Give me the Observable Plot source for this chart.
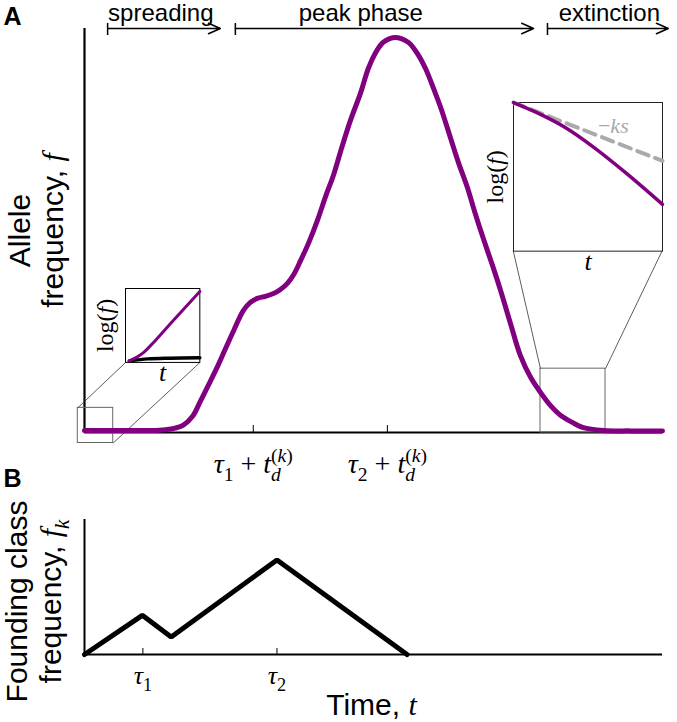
<!DOCTYPE html>
<html><head><meta charset="utf-8">
<script src="https://cdn.jsdelivr.net/npm/d3@7"></script>
<script src="https://cdn.jsdelivr.net/npm/@observablehq/plot@0.6"></script>
<style>
body{margin:0;background:#fff;}
#fig{position:relative;width:677px;height:722px;background:#fff;overflow:hidden;}
#fig svg{position:absolute;}
</style></head><body><div id="fig"></div>
<script>
// ---------------- data ----------------
// Panel A: allele frequency f(t) (t in arbitrary time units 0..100, f normalised)
const alleleT = [0, 6.2, 11.4, 14.0, 15.7, 17.1, 18.7, 20.1, 21.5, 23.0, 24.4, 25.8, 27.5, 28.7, 29.9, 31.3, 32.7, 33.9, 35.1, 36.2, 37.4, 38.8, 40.3, 41.7, 43.1, 44.5, 46.0, 47.8, 49.1, 50.4, 51.6, 52.8, 53.8, 54.8, 56.1, 57.6, 59.0, 60.4, 61.8, 63.3, 64.7, 66.3, 67.6, 69.0, 70.6, 72.0, 73.7, 75.4, 77.2, 78.9, 80.6, 82.4, 84.4, 86.3, 89.8, 94.5, 100];
const alleleF = [0.005, 0.005, 0.005, 0.007, 0.011, 0.018, 0.040, 0.079, 0.119, 0.163, 0.208, 0.252, 0.302, 0.322, 0.332, 0.337, 0.344, 0.354, 0.369, 0.391, 0.426, 0.470, 0.525, 0.584, 0.638, 0.705, 0.772, 0.842, 0.901, 0.941, 0.965, 0.975, 0.978, 0.975, 0.965, 0.938, 0.901, 0.851, 0.797, 0.730, 0.668, 0.604, 0.542, 0.480, 0.413, 0.351, 0.270, 0.191, 0.136, 0.099, 0.067, 0.042, 0.025, 0.012, 0.005, 0.004, 0.004];

// Panel B: founding class frequency f_k(t)
const foundT = [0, 10.0, 15.0, 33.3, 55.8];
const foundF = [0, 0.29, 0.13, 0.70, 0];

// times
const tau = [10.1, 33.3];
const tauLabels = ["$τ_1$", "$τ_2$"];
const td = 19.1;
const tickLabelsA = ["$τ_1 + t_d^{(k)}$", "$τ_2 + t_d^{(k)}$"];

// phases
const phases = ["spreading", "peak phase", "extinction"];
const phaseStart = [4.0, 26.1, 80.1];
const phaseEnd = [23.5, 77.7, 101.0];
const phaseLabelT = [13.2, 47.8, 90.8];

// magnified regions and inset boxes, in panel-A units [t0, t1, f0, f1]
const zoomLeft = [-1.16, 4.97, -0.026, 0.061];
const insetLeftBox = [7.09, 19.95, 0.173, 0.356];
const zoomRight = [78.89, 90.14, 0, 0.158];
const insetRightBox = [74.17, 99.95, 0.450, 0.818];

// left inset: early growth on log scale (normalised)
const earlyT = [0.05, 0.15, 0.25, 0.34, 0.6, 1.0];
const earlyLogF = [0.02, 0.07, 0.14, 0.23, 0.52, 0.96];
const earlyClassT = [0.05, 0.3, 0.6, 1.0];
const earlyClassLogF = [0.02, 0.048, 0.058, 0.064];

// right inset: extinction on log scale (normalised)
const lateT = [0, 0.15, 0.35, 0.55, 0.75, 1];
const lateLogF = [1, 0.935, 0.83, 0.69, 0.53, 0.315];
const ksT = [0, 1];
const ksLogF = [1, 0.607];

// ---------------- styles ----------------
const W = 677;
const PURPLE = "#800080";
const SANS = "'Liberation Sans', Arial, Helvetica, sans-serif";
const SERIF = "'Liberation Serif', 'Times New Roman', serif";
const zip = (xs, ys) => xs.map((x, i) => ({x, y: ys[i]}));
const MID = {textAnchor: "middle", lineAnchor: "middle", fill: "black"};

const boxes = [zoomLeft, zoomRight].map(b => ({t0: b[0], t1: b[1], f0: b[2], f1: b[3]}));
const links = [
  {x1: zoomLeft[0], y1: zoomLeft[3], x2: insetLeftBox[0], y2: insetLeftBox[2]},
  {x1: zoomLeft[1], y1: zoomLeft[2], x2: insetLeftBox[1], y2: insetLeftBox[2]},
  {x1: zoomRight[0], y1: zoomRight[3], x2: insetRightBox[0], y2: insetRightBox[2]},
  {x1: zoomRight[1], y1: zoomRight[3], x2: insetRightBox[1], y2: insetRightBox[2]}
];

// ---------------- panel A ----------------
const plotA = Plot.plot({
  width: W, height: 490,
  marginLeft: 84, marginRight: 15, marginTop: 28, marginBottom: 58,
  x: {domain: [0, 100], axis: null},
  y: {domain: [0, 1], axis: null},
  style: {background: "transparent", overflow: "visible", fontFamily: SANS, color: "black"},
  marks: [
    Plot.ruleX([0], {stroke: "black", strokeWidth: 2.2}),
    Plot.ruleY([0], {stroke: "black", strokeWidth: 2.2}),
    Plot.tickX(tau.map(v => v + td), {x: d => d, insetTop: 397, stroke: "black", strokeWidth: 1}),
    Plot.text(tickLabelsA, {...MID, x: (d, i) => tau[i] + td, y: 0, dy: 32, fontSize: 28}),
    Plot.arrow(phases, {x1: (d, i) => phaseStart[i], x2: (d, i) => phaseEnd[i], y1: 1, y2: 1,
      stroke: "black", strokeWidth: 1.5, headLength: 13, headAngle: 48}),
    Plot.tickX(phaseStart, {x: d => d, insetTop: -5, insetBottom: 397, stroke: "black", strokeWidth: 1.5}),
    Plot.text(phases, {...MID, x: (d, i) => phaseLabelT[i], y: 1, dy: -15, fontSize: 24}),
    Plot.rect(boxes, {x1: "t0", x2: "t1", y1: "f0", y2: "f1", fill: "none", stroke: "#666", strokeWidth: 1}),
    Plot.link(links, {x1: "x1", y1: "y1", x2: "x2", y2: "y2", stroke: "#333", strokeWidth: 0.8}),
    Plot.line(zip(alleleT, alleleF), {x: "x", y: "y", stroke: PURPLE, strokeWidth: 5, curve: "catmull-rom"}),
    Plot.text(["A"], {...MID, frameAnchor: "top-left", textAnchor: "start", dx: -81, dy: -12, fontSize: 25, fontWeight: "bold"}),
    Plot.text(["Allele"], {...MID, frameAnchor: "left", rotate: -90, dx: -64.6, fontSize: 30}),
    Plot.text(["frequency, $f$"], {...MID, frameAnchor: "left", rotate: -90, dx: -31, fontSize: 30})
  ]
});

const xA = plotA.scale("x"), yA = plotA.scale("y");
function insetPlot(box, m, marks) {
  const left = xA.apply(box[0]), right = xA.apply(box[1]);
  const top = yA.apply(box[3]), bottom = yA.apply(box[2]);
  const p = Plot.plot({
    width: right - left + m.l + m.r, height: bottom - top + m.t + m.b,
    marginLeft: m.l, marginRight: m.r, marginTop: m.t, marginBottom: m.b,
    x: {domain: [0, 1], axis: null}, y: {domain: [0, 1], axis: null},
    style: {background: "transparent", overflow: "visible", color: "black"},
    marks
  });
  p.style.left = (left - m.l) + "px";
  p.style.top = (top - m.t) + "px";
  return p;
}

const insetL = insetPlot(insetLeftBox, {l: 40, r: 4, t: 4, b: 30}, [
  Plot.frame({stroke: "black", strokeWidth: 1}),
  Plot.line(zip(earlyClassT, earlyClassLogF), {x: "x", y: "y", stroke: "black", strokeWidth: 3.5, curve: "monotone-x"}),
  Plot.line(zip(earlyT, earlyLogF), {x: "x", y: "y", stroke: PURPLE, strokeWidth: 3, curve: "monotone-x"}),
  Plot.text(["$log(f)$"], {...MID, frameAnchor: "left", rotate: -90, dx: -20, fontSize: 24}),
  Plot.text(["$t$"], {...MID, frameAnchor: "bottom", dy: 10, fontSize: 26})
]);

const insetR = insetPlot(insetRightBox, {l: 40, r: 4, t: 4, b: 30}, [
  Plot.frame({stroke: "#222", strokeWidth: 1}),
  Plot.line(zip(ksT, ksLogF), {x: "x", y: "y", stroke: "#aaa", strokeWidth: 4, strokeDasharray: "12,7"}),
  Plot.line(zip(lateT, lateLogF), {x: "x", y: "y", stroke: PURPLE, strokeWidth: 3.5, curve: "monotone-x"}),
  Plot.text(["$−ks$"], {...MID, x: 0.67, y: 0.843, fontSize: 22, fill: "#aaa"}),
  Plot.text(["$log(f)$"], {...MID, frameAnchor: "left", rotate: -90, dx: -18, fontSize: 24}),
  Plot.text(["$t$"], {...MID, frameAnchor: "bottom", dy: 11, fontSize: 26})
]);

// ---------------- panel B ----------------
const plotB = Plot.plot({
  width: W, height: 232,
  marginLeft: 84, marginRight: 15, marginTop: 29, marginBottom: 68,
  x: {domain: [0, 100], axis: null},
  y: {domain: [0, 1], axis: null},
  style: {background: "transparent", overflow: "visible", fontFamily: SANS, color: "black"},
  marks: [
    Plot.ruleX([0], {stroke: "black", strokeWidth: 2}),
    Plot.ruleY([0], {stroke: "black", strokeWidth: 2}),
    Plot.tickX(tau, {x: d => d, insetTop: 129, stroke: "black", strokeWidth: 1}),
    Plot.line(zip(foundT, foundF), {x: "x", y: "y", stroke: "black", strokeWidth: 5, strokeLinejoin: "miter"}),
    Plot.text(tauLabels, {...MID, x: (d, i) => tau[i], y: 0, dy: 21, fontSize: 26}),
    Plot.text(["Time, $t$"], {...MID, frameAnchor: "bottom", dx: -2, dy: 51, fontSize: 30}),
    Plot.text(["Founding class"], {...MID, frameAnchor: "left", rotate: -90, dx: -67.5, dy: 14.5, fontSize: 30}),
    Plot.text(["frequency, $f_k$"], {...MID, frameAnchor: "left", rotate: -90, dx: -33, dy: 14.5, fontSize: 30}),
    Plot.text(["B"], {...MID, frameAnchor: "top-left", textAnchor: "start", dx: -81, dy: -41, fontSize: 25, fontWeight: "bold"})
  ]
});
plotA.style.left = "0px"; plotA.style.top = "0px";
plotB.style.left = "0px"; plotB.style.top = "490px";

const fig = document.getElementById("fig");
fig.append(plotA, plotB, insetL, insetR);

// ---------------- simple math typesetting ($...$ -> serif, italics, sub/sup) ----------------
function typeset(root) {
  const NS = "http://www.w3.org/2000/svg";
  root.querySelectorAll("text").forEach(el => {
    const src = el.textContent;
    if (!src.includes("$")) return;
    const fs = parseFloat(getComputedStyle(el).fontSize) || 16;
    while (el.firstChild) el.removeChild(el.firstChild);
    let cur = 0;
    function add(str, opt) {
      const ts = document.createElementNS(NS, "tspan");
      ts.textContent = str;
      const target = opt.shift || 0;
      if (target !== cur || opt.dx) { ts.setAttribute("dy", target - cur); cur = target; }
      if (opt.dx) ts.setAttribute("dx", opt.dx);
      if (opt.math) ts.setAttribute("font-family", SERIF);
      if (opt.italic) ts.setAttribute("font-style", "italic");
      if (opt.size) ts.setAttribute("font-size", opt.size);
      el.appendChild(ts);
      return ts;
    }
    const isLetter = c => /[A-Za-zα-ω]/.test(c);
    function addMath(str, level, dxFirst) {
      const shift = level === "sub" ? 0.26 * fs : level === "sup" ? -0.42 * fs : 0;
      const size = level ? 0.7 * fs : null;
      const spans = [];
      let k = 0, first = true;
      while (k < str.length) {
        let run, italic;
        if (str.startsWith("log", k)) { run = "log"; italic = false; k += 3; }
        else {
          italic = isLetter(str[k]); run = str[k]; k++;
          while (k < str.length && !str.startsWith("log", k) && isLetter(str[k]) === italic) { run += str[k]; k++; }
        }
        spans.push(add(run, {math: true, italic, shift, size, dx: first ? dxFirst : 0}));
        first = false;
      }
      return spans;
    }
    src.split("$").forEach((part, i) => {
      if (!part) return;
      if (i % 2 === 0) { add(part, {}); return; }
      let buf = "", j = 0, lastSub = null;
      while (j < part.length) {
        const c = part[j];
        if (c === "_" || c === "^") {
          j++;
          let arg;
          if (part[j] === "{") { const e = part.indexOf("}", j); arg = part.slice(j + 1, e); j = e + 1; }
          else { arg = part[j]; j++; }
          if (buf) { addMath(buf, null); buf = ""; lastSub = null; }
          if (c === "_") lastSub = addMath(arg, "sub");
          else {
            const dx = lastSub ? -lastSub.reduce((s, t) => s + t.getComputedTextLength(), 0) : 0;
            addMath(arg, "sup", dx);
            lastSub = null;
          }
        } else { buf += c; j++; }
      }
      if (buf) addMath(buf, null);
    });
  });
}
typeset(fig);
</script>
</body></html>
